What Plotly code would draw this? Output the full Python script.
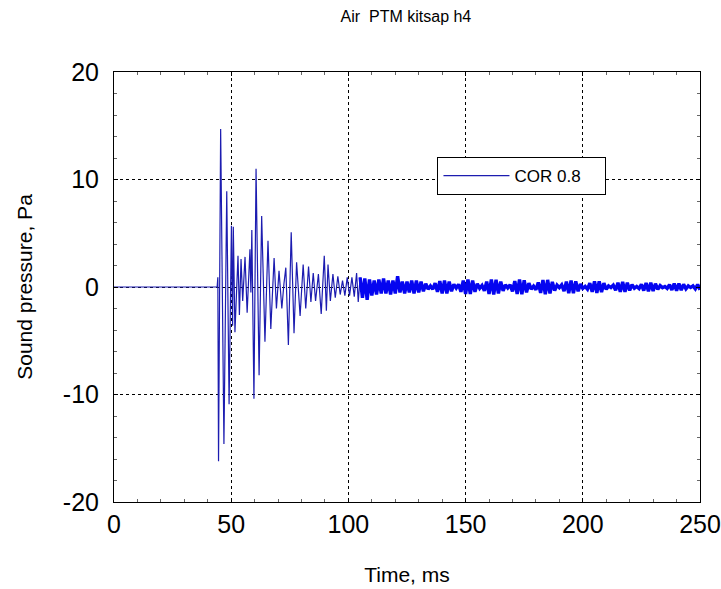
import numpy as np
import plotly.graph_objects as go

# trigger and early part: peak times (ms) and pressures (Pa)
early_t = [0, 44.0, 44.3, 44.6, 45.5, 46.9, 48.1, 49.1, 50.1, 50.6, 50.9, 51.6, 52.9, 53.5, 54.2, 54.9,
           55.9, 56.8, 58.0, 58.4, 58.8, 59.7, 60.6, 61.9, 63.0, 64.4, 65.7, 66.9, 68.3, 69.3,
           70.4, 71.6, 72.5, 73.3, 74.4, 75.6, 76.8, 77.9, 79.4, 80.7, 81.8, 83.0, 84.0, 85.0,
           86.0, 87.2, 88.4, 89.7, 90.6, 91.3, 92.3, 93.4, 94.4, 95.5, 96.5, 97.5, 98.5, 99.5,
           100.5, 101.5, 102.5, 103.5, 104.2, 105.0]
early_p = [0, 0.0, 0.9, -16.2, 14.7, -14.6, 8.9, -10.9, 5.7, -3.6, 5.6, -4.2, 2.9, -2.6, 2.6, -1.3,
           2.8, -2.4, 3.5, -0.5, 5.3, -10.4, 11.0, -8.2, 6.6, -5.1, 4.3, -3.9, 2.7, -2.0,
           1.5, -2.0, 0.3, 1.8, -5.4, 5.1, -4.3, 2.3, -2.7, 2.1, -2.0, 1.9, -1.4, 1.3,
           -1.3, 1.2, -2.5, 2.9, -2.2, 2.1, -1.3, 1.2, -1.0, 1.0, -0.7, 0.6, -0.8, 0.9,
           -0.8, 0.9, -0.9, 1.3, -1.4, 0.9]

# tail, one sample per ms from 105 ms to 250 ms
tail_start, tail_step = 105.0, 1.0
tail_p = [0.9, -1.0, 0.8, -1.2, 0.7, -0.8, 0.6, -0.7, 0.7, -0.6,
          0.8, -0.6, 0.6, -0.7, 0.6, -0.6, 1.0, -0.5, 0.5, -0.6,
          0.5, -0.5, 0.6, -0.6, 0.6, -0.5, 0.5, -0.4, 0.3, -0.2,
          0.1, -0.2, 0.35, -0.45, 0.55, -0.6, 0.6, -0.6, 0.5, -0.4,
          0.25, -0.1, 0.25, -0.45, 0.6, -0.65, 0.7, -0.65, 0.6, -0.45,
          0.3, -0.12, 0.15, -0.35, 0.5, -0.65, 0.7, -0.7, 0.68, -0.6,
          0.5, -0.35, 0.2, -0.08, 0.2, -0.4, 0.55, -0.65, 0.7, -0.68,
          0.62, -0.5, 0.35, -0.2, 0.08, -0.25, 0.42, -0.55, 0.65, -0.68,
          0.66, -0.6, 0.48, -0.33, 0.18, -0.06, 0.2, -0.38, 0.5, -0.58,
          0.6, -0.58, 0.52, -0.4, 0.27, -0.12, 0.06, -0.2, 0.35, -0.45,
          0.52, -0.55, 0.53, -0.47, 0.36, -0.22, 0.1, -0.05, 0.17, -0.3,
          0.4, -0.45, 0.47, -0.45, 0.4, -0.32, 0.22, -0.12, 0.05, -0.14,
          0.25, -0.33, 0.38, -0.4, 0.4, -0.37, 0.3, -0.22, 0.13, -0.06,
          0.05, -0.13, 0.22, -0.28, 0.32, -0.34, 0.33, -0.3, 0.25, -0.18,
          0.1, -0.05, 0.1, -0.18, 0.24, -0.26]
tail_t = tail_start + tail_step * np.arange(len(tail_p))

x_ticks = [0, 50, 100, 150, 200, 250]
y_ticks = [-20, -10, 0, 10, 20]
y_labels = ["-20", "-10", "0", "10", "20"]

fnt = "Liberation Sans, Arial, sans-serif"

fig = go.Figure()
fig.add_trace(go.Scatter(x=early_t, y=early_p, mode="lines", name="COR 0.8\u00a0\u00a0\u00a0\u00a0",
                         legendgroup="c", line=dict(color="#1c1cb0", width=1.2)))
# the dense tail prints as a solid band in the original
fig.add_trace(go.Scatter(x=tail_t, y=tail_p, mode="lines", name="COR 0.8",
                         legendgroup="c", showlegend=False,
                         line=dict(color="#0505f0", width=3.4)))

fig.update_layout(
    width=721, height=589,
    margin=dict(l=114, r=21, t=72, b=87, autoexpand=False),
    paper_bgcolor="white", plot_bgcolor="white",
    font=dict(family=fnt, color="black"),
    title=dict(text="Air  PTM kitsap h4", x=0.563, xanchor="center",
               yref="container", y=0.972, yanchor="middle", font=dict(size=16)),
    legend=dict(x=0.552, y=0.802, xanchor="left", yanchor="top",
                bgcolor="white", bordercolor="black", borderwidth=1,
                font=dict(size=17), itemwidth=66),
    showlegend=True,
)
fig.update_xaxes(range=[0, 250], tickvals=x_ticks, automargin=False,
                 showline=True, linecolor="black", linewidth=1, mirror="allticks",
                 ticks="inside", ticklen=4, tickcolor="black",
                 tickfont=dict(size=25),
                 showgrid=True, gridcolor="black", griddash="dot", gridwidth=1,
                 zeroline=False,
                 minor=dict(dtick=10, ticks="inside", ticklen=3, tickcolor="#666", showgrid=False),
                 title=dict(text="Time, ms", font=dict(size=21), standoff=30))
fig.update_yaxes(range=[-20, 20], tickvals=y_ticks, ticktext=y_labels, automargin=False,
                 showline=True, linecolor="black", linewidth=1, mirror="allticks",
                 ticks="inside", ticklen=4, tickcolor="black",
                 tickfont=dict(size=25), ticklabelstandoff=9,
                 showgrid=True, gridcolor="black", griddash="dot", gridwidth=1,
                 zeroline=False,
                 minor=dict(dtick=2, ticks="inside", ticklen=3, tickcolor="#666", showgrid=False),
                 title=dict(text="Sound pressure, Pa", font=dict(size=21), standoff=24))

# the page's default body margin would shift the chart by 8 px
fig.write_html("out.html", config={"displayModeBar": False},
               post_script="document.body.style.margin='0';")
